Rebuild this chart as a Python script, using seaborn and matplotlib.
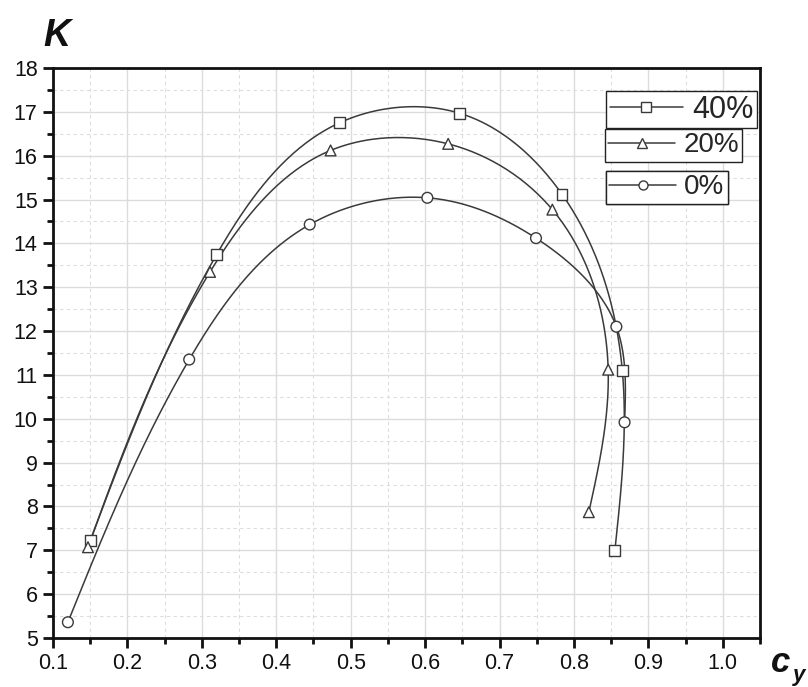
import numpy as np
import pandas as pd
import seaborn as sns
import matplotlib
matplotlib.use("Agg")
from matplotlib import pyplot as plt
from matplotlib.lines import Line2D
from matplotlib.ticker import MultipleLocator

# values
cy_40 = [0.150, 0.320, 0.485, 0.646, 0.784, 0.865, 0.855]
k_40 = [7.22, 13.75, 16.75, 16.97, 15.12, 11.10, 7.00]
cy_20 = [0.147, 0.311, 0.473, 0.631, 0.771, 0.846, 0.820]
k_20 = [7.07, 13.35, 16.12, 16.27, 14.77, 11.12, 7.87]
cy_0 = [0.120, 0.283, 0.445, 0.603, 0.749, 0.857, 0.868]
k_0 = [5.36, 11.35, 14.43, 15.04, 14.12, 12.10, 9.92]
series_labels = ["40%", "20%", "0%"]
series_markers = ["s", "^", "o"]

line_col = "#3a3a3a"


def natural_spline(t, v, tt):
    # natural cubic spline of v(t), evaluated at tt
    n = len(t)
    h = np.diff(t)
    A = np.zeros((n, n))
    b = np.zeros(n)
    A[0, 0] = 1
    A[-1, -1] = 1
    for i in range(1, n - 1):
        A[i, i - 1] = h[i - 1]
        A[i, i] = 2 * (h[i - 1] + h[i])
        A[i, i + 1] = h[i]
        b[i] = 6 * ((v[i + 1] - v[i]) / h[i] - (v[i] - v[i - 1]) / h[i - 1])
    M = np.linalg.solve(A, b)
    out = np.empty_like(tt)
    for j, s in enumerate(tt):
        i = min(np.searchsorted(t, s, side="right") - 1, n - 2)
        i = max(i, 0)
        a = (t[i + 1] - s) / h[i]
        c = (s - t[i]) / h[i]
        out[j] = (a * v[i] + c * v[i + 1]
                  + ((a ** 3 - a) * M[i] + (c ** 3 - c) * M[i + 1]) * h[i] ** 2 / 6)
    return out


def smooth(x, y):
    x = np.asarray(x)
    y = np.asarray(y)
    # chord length in screen-like units
    d = np.hypot(np.diff(x) * 744, np.diff(y) * 43.85)
    t = np.concatenate([[0], np.cumsum(d)])
    tt = np.linspace(0, t[-1], 400)
    return natural_spline(t, x, tt), natural_spline(t, y, tt)


sns.set_theme(style="white")
plt.rcParams["font.family"] = ["Liberation Sans", "DejaVu Sans"]

fig = plt.figure(figsize=(8.08, 6.87), dpi=100)
ax = fig.add_axes([53 / 808, 1 - 638 / 687, 707 / 808, 570 / 687])

rows = []
curve_rows = []
for lab, xs, ys in zip(series_labels, [cy_40, cy_20, cy_0], [k_40, k_20, k_0]):
    for xv, yv in zip(xs, ys):
        rows.append({"series": lab, "cy": xv, "K": yv})
    sx, sy = smooth(xs, ys)
    for i, (xv, yv) in enumerate(zip(sx, sy)):
        curve_rows.append({"series": lab, "cy": xv, "K": yv, "order": i})

pts = pd.DataFrame(rows)
curves = pd.DataFrame(curve_rows)

for lab in series_labels:
    sub = curves[curves["series"] == lab]
    sns.lineplot(data=sub, x="cy", y="K", sort=False, estimator=None,
                 color=line_col, lw=1.1, ax=ax, legend=False, zorder=3)

sns.scatterplot(data=pts, x="cy", y="K", style="series",
                markers=dict(zip(series_labels, series_markers)),
                s=60, facecolor="white", edgecolor=line_col, linewidth=1.0,
                ax=ax, legend=False, zorder=4)

ax.set_xlim(0.1, 1.05)
ax.set_ylim(5, 18)
ax.xaxis.set_major_locator(MultipleLocator(0.1))
ax.xaxis.set_minor_locator(MultipleLocator(0.05))
ax.yaxis.set_major_locator(MultipleLocator(1))
ax.yaxis.set_minor_locator(MultipleLocator(0.5))
ax.set_xticks(np.round(np.arange(0.1, 1.01, 0.1), 1))
ax.set_xticklabels([f"{v:.1f}" for v in np.arange(0.1, 1.01, 0.1)])
ax.grid(True, which="major", color="#dcdcdc", lw=1.0, ls="-")
ax.grid(True, which="minor", color="#dcdcdc", lw=0.8, ls=(0, (3, 3)))
ax.set_axisbelow(True)
for sp in ax.spines.values():
    sp.set_color("#111111")
    sp.set_linewidth(2.0)
ax.tick_params(which="major", direction="out", length=7, width=2, color="#111111",
               labelsize=15.5, labelcolor="#111111", bottom=True, left=True, pad=4)
ax.tick_params(which="minor", direction="out", length=4, width=2, color="#111111",
               bottom=True, left=True)
ax.set_xlabel("")
ax.set_ylabel("")

fig.text(43 / 808, 1 - 46 / 687, "K", fontsize=27, fontweight="bold",
         fontstyle="italic", color="#111111")
fig.text(771 / 808, 1 - 672 / 687, "c", fontsize=25, fontweight="bold",
         fontstyle="italic", color="#111111")
fig.text(793 / 808, 1 - 681 / 687, "y", fontsize=16, fontweight="bold",
         fontstyle="italic", color="#111111")

anchors = [(606 / 808, 1 - 91 / 687), (605 / 808, 1 - 129 / 687), (606 / 808, 1 - 171 / 687)]
sizes = [22, 20, 20]
for lab, mk, anc, fs in zip(series_labels, series_markers, anchors, sizes):
    h = Line2D([], [], color=line_col, lw=1.1, marker=mk, markersize=6.5,
               markerfacecolor="white", markeredgecolor=line_col)
    leg = ax.legend([h], [lab], loc="upper left", bbox_to_anchor=anc,
                    bbox_transform=fig.transFigure, fontsize=fs, frameon=True,
                    fancybox=False, framealpha=1, edgecolor="#222222",
                    borderaxespad=0, borderpad=0.12, handlelength=2.4,
                    handletextpad=0.3, numpoints=1)
    leg.get_frame().set_linewidth(1.0)
    ax.add_artist(leg)

fig.savefig("out.png", dpi=100)
